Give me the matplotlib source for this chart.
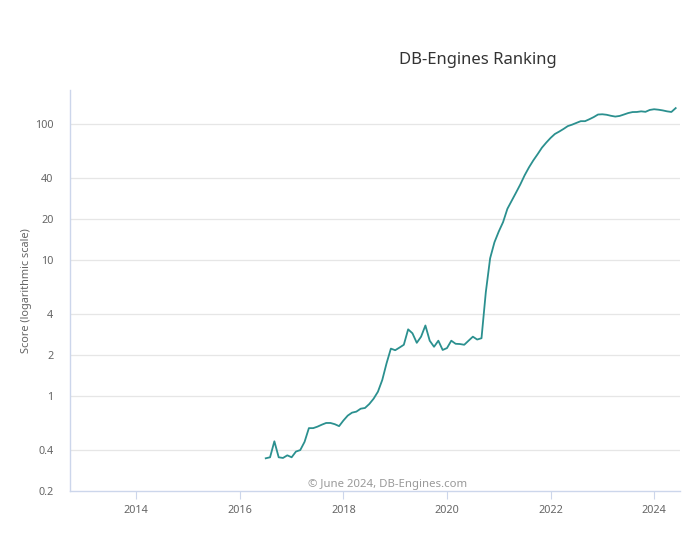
import pandas as pd
import numpy as np
import matplotlib
matplotlib.use('Agg')
import matplotlib.pyplot as plt
from matplotlib.ticker import FixedLocator, NullLocator


# monthly score, July 2016 .. June 2024
scores = [
    0.348, 0.354, 0.464, 0.354, 0.35, 0.366, 0.354, 0.39, 0.40, 0.46,
    0.58, 0.58, 0.595, 0.615, 0.633, 0.633, 0.62, 0.60, 0.66, 0.717,
    0.754, 0.767, 0.806, 0.816, 0.873, 0.955, 1.075, 1.31, 1.74, 2.23,
    2.17, 2.27, 2.38, 3.09, 2.89, 2.46, 2.73, 3.3, 2.55, 2.30,
    2.55, 2.18, 2.25, 2.55, 2.42, 2.41, 2.38, 2.55, 2.73, 2.60,
    2.66, 5.8, 10.3, 13.5, 16.2, 19.0, 23.8, 27.3, 31.3, 36.0,
    42, 48, 54, 60, 67, 73, 79, 84.5, 88, 92,
    96.6, 99, 102, 105, 105, 108.5, 112.5, 117.5, 118, 117,
    115, 113.5, 114.7, 117.5, 120.5, 122.5, 122.7, 124, 123, 127,
    128.5, 127.5, 126, 124, 122.7, 131,
]
start_month = '2016-07-01'

y_ticks = [0.2, 0.4, 1, 2, 4, 10, 20, 40, 100]
y_tick_labels = ['0.2', '0.4', '1', '2', '4', '10', '20', '40', '100']
x_years = [2014, 2016, 2018, 2020, 2022, 2024]


def to_year(ts):
    return ts.year + (ts.month - 1) / 12


def main():
    dates = pd.date_range(start_month, periods=len(scores), freq='MS')
    df = pd.DataFrame({'x': [to_year(d) for d in dates], 'y': scores})

    W, H = 685, 549
    fig = plt.figure(figsize=(W / 100, H / 100), dpi=100)
    plt.rcParams['font.family'] = ['Noto Sans', 'DejaVu Sans']

    ax = fig.add_axes([70 / W, (H - 491) / H, 610 / W, 401 / H])
    ax.plot('x', 'y', data=df, color='#2b908f', linewidth=1.3, solid_joinstyle='round')

    ax.set_yscale('log')
    ax.set_ylim(0.2, 178)
    ax.set_xlim(2012.72, 2024.5)

    ax.yaxis.set_major_locator(FixedLocator(y_ticks))
    ax.yaxis.set_minor_locator(NullLocator())
    ax.set_yticklabels(y_tick_labels)
    ax.set_xticks(x_years)
    ax.set_xticklabels([str(y) for y in x_years])

    for v in y_ticks[1:]:
        ax.axhline(v, color='#e6e6e6', linewidth=0.9, zorder=0)

    for s in ['top', 'right']:
        ax.spines[s].set_visible(False)
    for s in ['left', 'bottom']:
        ax.spines[s].set_color('#ccd6eb')
        ax.spines[s].set_linewidth(1.0)

    ax.tick_params(axis='y', length=0, pad=12, labelsize=7.8, labelcolor='#666666')
    ax.tick_params(axis='x', length=6, width=0.8, color='#ccd6eb', pad=4,
                   labelsize=7.8, labelcolor='#666666')

    fig.text(27 / W, 1 - 291 / H, 'Score (logarithmic scale)', rotation=90,
             ha='center', va='center', fontsize=7.9, color='#666666')
    fig.text(478 / W, 1 - 60 / H, 'DB-Engines Ranking', ha='center', va='center',
             fontsize=12, color='#333333')
    fig.text(388 / W, 1 - 485 / H, '\u00a9 June 2024, DB-Engines.com', ha='center',
             va='center', fontsize=8.2, color='#999999')

    fig.savefig('out.png', dpi=100)


if __name__ == '__main__':
    main()
